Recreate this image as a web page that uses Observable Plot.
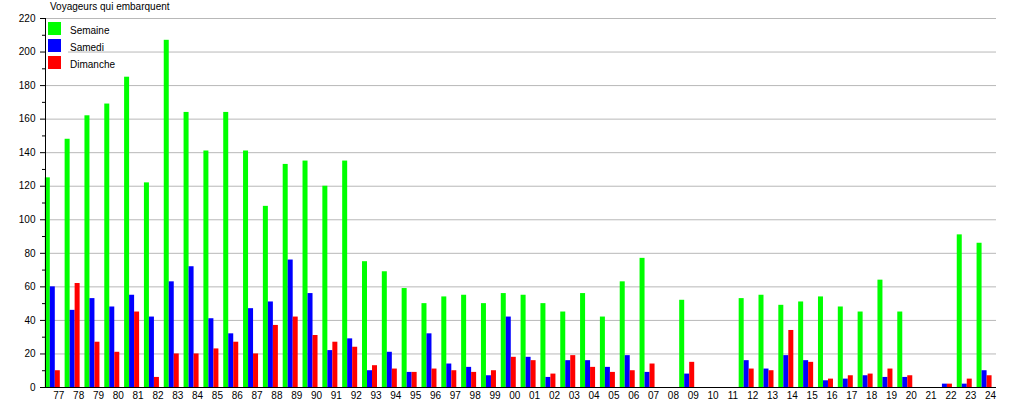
<!DOCTYPE html>
<html>
<head>
<meta charset="utf-8">
<script src="https://cdn.jsdelivr.net/npm/d3@7"></script>
<script src="https://cdn.jsdelivr.net/npm/@observablehq/plot@0.6"></script>
<style>
  body { margin: 0; background: white; }
  #wrap { position: relative; width: 1015px; height: 400px; font-family: "Liberation Sans", Arial, sans-serif; font-size: 10px; color: #000; }
  #title { position: absolute; left: 50px; top: 1px; line-height: 12px; white-space: nowrap; }
  #lg-bg { position: absolute; left: 46px; top: 20px; width: 22px; height: 51px; background: white; }
  .lg-sq { position: absolute; left: 48px; width: 13px; height: 13px; }
  .lg-tx { position: absolute; left: 70px; line-height: 12px; white-space: nowrap; }
</style>
</head>
<body>
<div id="wrap"></div>
<script>
const years = ["77","78","79","80","81","82","83","84","85","86","87","88","89","90","91","92",
  "93","94","95","96","97","98","99","00","01","02","03","04","05","06","07",
  "08","09","10","11","12","13","14","15","16","17","18","19","20","21","22","23","24"];
const semaine = [125,148,162,169,185,122,207,164,141,164,141,108,133,135,120,135,
  75,69,59,50,54,55,50,56,55,50,45,56,42,63,77,
  0,52,0,0,53,55,49,51,54,48,45,64,45,0,0,91,86];
const samedi = [60,46,53,48,55,42,63,72,41,32,47,51,76,56,22,29,
  10,21,9,32,14,12,7,42,18,6,16,16,12,19,9,
  0,8,0,0,16,11,19,16,4,5,7,6,6,0,2,2,10];
const dimanche = [10,62,27,21,45,6,20,20,23,27,20,37,42,31,27,24,
  13,11,9,11,10,9,10,18,16,8,19,12,9,10,14,
  0,15,0,0,11,10,34,15,5,7,8,11,7,0,2,5,7];
const seriesNames = ["Semaine", "Samedi", "Dimanche"];
const seriesColors = ["#00ff00", "#0000ff", "#ff0000"];
const yMajor = [0,20,40,60,80,100,120,140,160,180,200,220];
const yMinor = [10,30,50,70,90,110,130,150,170,190,210];
const titleText = "Voyageurs qui embarquent";

const seriesValues = [semaine, samedi, dimanche];
const xRange = [48.4, 1000];
const bw = (xRange[1] - xRange[0]) / years.length;
const barW = 5;
const offsets = [-3.6, 1.4, 6.4];

const barMarks = seriesValues.map((vals, si) => {
  const data = years.map((y, i) => ({year: y, value: vals[i]})).filter(d => d.value > 0);
  return Plot.barY(data, {
    x: "year", y: "value", fill: seriesColors[si],
    insetLeft: 0, insetRight: bw - barW, dx: offsets[si]
  });
});

const chart = Plot.plot({
  width: 1015,
  height: 400,
  marginLeft: 45,
  marginRight: 19,
  marginTop: 18,
  marginBottom: 13,
  style: {fontFamily: "'Liberation Sans', Arial, sans-serif", fontSize: "10px", background: "transparent", color: "#000"},
  x: {type: "band", domain: years, range: xRange, padding: 0, label: null},
  y: {domain: [0, 220], label: null},
  marks: [
    Plot.gridY(yMajor.filter(d => d > 0), {stroke: "#b8b8b8", strokeOpacity: 1}),
    ...barMarks,
    Plot.ruleY([0], {stroke: "#000"}),
    Plot.frame({anchor: "left", stroke: "#000"}),
    Plot.axisY(yMajor, {tickSize: 5, tickPadding: 5, label: null, stroke: "#000"}),
    Plot.axisY(yMinor, {tickSize: 3, text: null, label: null, stroke: "#000"}),
    Plot.axisX({tickSize: 0, tickPadding: 4, label: null})
  ]
});

const wrap = document.getElementById("wrap");
wrap.appendChild(chart);

const t = document.createElement("div");
t.id = "title";
t.textContent = titleText;
wrap.appendChild(t);

const bg = document.createElement("div");
bg.id = "lg-bg";
wrap.appendChild(bg);

seriesNames.forEach((name, i) => {
  const sq = document.createElement("div");
  sq.className = "lg-sq";
  sq.style.top = (22 + i * 17) + "px";
  sq.style.background = seriesColors[i];
  wrap.appendChild(sq);
  const tx = document.createElement("div");
  tx.className = "lg-tx";
  tx.style.top = (24.5 + i * 17) + "px";
  tx.textContent = name;
  wrap.appendChild(tx);
});
</script>
</body>
</html>
